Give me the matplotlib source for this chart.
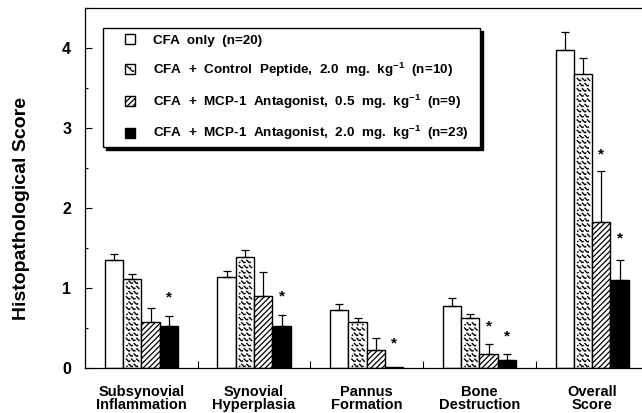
import matplotlib
matplotlib.use('Agg')
import matplotlib.pyplot as plt
import numpy as np
from matplotlib.collections import LineCollection
from matplotlib.patches import Rectangle
from matplotlib.legend_handler import HandlerPatch
from matplotlib.ticker import MultipleLocator, FixedLocator

plt.rcParams['font.family'] = ['Liberation Sans', 'DejaVu Sans']
plt.rcParams['font.weight'] = 'bold'
plt.rcParams['mathtext.fontset'] = 'custom'
plt.rcParams['mathtext.rm'] = 'Liberation Sans:bold'
plt.rcParams['mathtext.it'] = 'Liberation Sans:bold'
plt.rcParams['mathtext.bf'] = 'Liberation Sans:bold'
plt.rcParams['hatch.linewidth'] = 0.9

# ---------------- data ----------------
categories = ['Subsynovial\nInflammation', 'Synovial\nHyperplasia', 'Pannus\nFormation',
              'Bone\nDestruction', 'Overall\nScore']
labels = ['CFA  only  (n=20)',
          'CFA  +  Control  Peptide,  2.0  mg.  kg$^{-1}$  (n=10)',
          'CFA  +  MCP-1  Antagonist,  0.5  mg.  kg$^{-1}$  (n=9)',
          'CFA  +  MCP-1  Antagonist,  2.0  mg.  kg$^{-1}$  (n=23)']
cfa_only = [1.35, 1.14, 0.725, 0.775, 3.975]
cfa_only_err = [0.07, 0.07, 0.075, 0.095, 0.225]
control = [1.11, 1.39, 0.57, 0.62, 3.675]
control_err = [0.07, 0.08, 0.05, 0.05, 0.195]
mcp05 = [0.57, 0.90, 0.23, 0.18, 1.83]
mcp05_err = [0.18, 0.30, 0.15, 0.12, 0.63]
mcp20 = [0.53, 0.53, 0.01, 0.10, 1.10]
mcp20_err = [0.12, 0.13, 0.0, 0.08, 0.25]
star_mcp05 = [None, None, None, 0.52, 2.67]
star_mcp20 = [0.88, 0.90, 0.31, 0.40, 1.62]

values = [cfa_only, control, mcp05, mcp20]
errors = [cfa_only_err, control_err, mcp05_err, mcp20_err]
stars = [[None] * 5, [None] * 5, star_mcp05, star_mcp20]

# ---------------- figure ----------------
W, H, DPI = 642, 413, 100
fig = plt.figure(figsize=(W / DPI, H / DPI), dpi=DPI)
ax_left, ax_right, ax_bot, ax_top = 85, 648.5, 368, 8
ax = fig.add_axes([ax_left / W, 1 - ax_bot / H, (ax_right - ax_left) / W, (ax_bot - ax_top) / H])
ax.set_xlim(-0.5, 4.5)
ax.set_ylim(0, 4.5)

sx = (ax_right - ax_left) / 5.0   # px per data x
sy = (ax_bot - ax_top) / 4.5      # px per data y

bw = 0.1625
x = np.arange(len(categories))
faces = ['white', 'white', 'white', 'black']
hatches = [None, None, '//////', None]


def zig_segments(wpx, hpx, step, margin=1.0):
    """Texture motifs in pixel units inside a box (0..wpx, 0..hpx)."""
    segs = []
    a = step * 0.3
    nx = int(wpx / step) + 2
    ny = int(hpx / step) + 2
    for r in range(ny):
        for c in range(nx):
            cx = c * step + (step / 2 if r % 2 else 0) + step * 0.35
            cy = r * step + step * 0.5
            s1 = [(cx - a, cy + a), (cx + a, cy - a)]
            s2 = [(cx + a, cy - a), (cx + 1.8 * a, cy - 0.2 * a)]
            for s in (s1, s2):
                ok = all(margin <= p[0] <= wpx - margin and margin <= p[1] <= hpx - margin for p in s)
                if ok:
                    segs.append(s)
    return segs


for j in range(4):
    xs = x + (j - 1.5) * bw
    bars = ax.bar(xs, values[j], width=bw, color=faces[j], edgecolor='black',
                  linewidth=1.0, hatch=hatches[j], zorder=2)
    if j == 1:
        for b in bars:
            x0 = b.get_x()
            segs_px = zig_segments(b.get_width() * sx, b.get_height() * sy, 5.2)
            segs = [[(x0 + p[0] / sx, p[1] / sy) for p in s] for s in segs_px]
            lc = LineCollection(segs, colors='black', linewidths=1.0, zorder=2.5)
            ax.add_collection(lc)
    for i in range(5):
        if errors[j][i] > 0:
            ax.errorbar(xs[i], values[j][i], yerr=[[0], [errors[j][i]]], fmt='none',
                        ecolor='black', elinewidth=0.9, capsize=3, capthick=0.9, zorder=3)
        if stars[j][i] is not None:
            ax.text(xs[i], stars[j][i], '*', ha='center', va='center', fontsize=11,
                    fontweight='bold', zorder=4)

# axes styling
ax.spines['right'].set_visible(False)
for s in ['left', 'top', 'bottom']:
    ax.spines[s].set_linewidth(0.9)
ax.yaxis.set_major_locator(FixedLocator([0, 1, 2, 3, 4]))
ax.yaxis.set_minor_locator(MultipleLocator(0.5))
ax.tick_params(axis='y', which='major', direction='in', length=5, width=0.8,
               labelsize=11.5, pad=10)
ax.tick_params(axis='y', which='minor', direction='in', length=2.5, width=0.8)
ax.set_xticks(x)
ax.set_xticklabels(categories, fontsize=10.5, fontweight='bold', linespacing=0.95)
ax.xaxis.set_minor_locator(FixedLocator([0.5, 1.5, 2.5, 3.5]))
ax.tick_params(axis='x', which='major', length=0, pad=12)
ax.tick_params(axis='x', which='minor', direction='in', length=5, width=0.8)
for t in ax.get_yticklabels():
    t.set_fontweight('bold')

fig.text(22 / W, 1 - 208 / H, 'Histopathological Score', rotation=90, ha='center',
         va='center', fontsize=14, fontweight='bold')

# legend frame with shadow (drawn manually)
bx0, bx1, by0, by1 = 103, 480, 28, 147
def afx(p):
    return (p - ax_left) / (ax_right - ax_left)
def afy(p):
    return (ax_bot - p) / (ax_bot - ax_top)
shadow = Rectangle((afx(bx0 + 3), afy(by1 + 3)), afx(bx1) - afx(bx0), afy(by0) - afy(by1),
                   transform=ax.transAxes, facecolor='black', edgecolor='black', zorder=5)
frame = Rectangle((afx(bx0), afy(by1)), afx(bx1) - afx(bx0), afy(by0) - afy(by1),
                  transform=ax.transAxes, facecolor='white', edgecolor='black',
                  linewidth=1.0, zorder=6)
ax.add_patch(shadow)
ax.add_patch(frame)


class ZigHandler(HandlerPatch):
    def create_artists(self, legend, orig_handle, xdescent, ydescent, width, height,
                       fontsize, trans):
        r = Rectangle((-xdescent, -ydescent), width, height, facecolor='white',
                      edgecolor='black', linewidth=1.0, transform=trans)
        segs = []
        a = width * 0.16
        for (cx, cy) in [(0.3, 0.68), (0.62, 0.38)]:
            px, py = -xdescent + cx * width, -ydescent + cy * height
            segs.append([(px - a, py + a), (px + a, py - a)])
            segs.append([(px + a, py - a), (px + a * 1.8, py - a * 0.2)])
        lc = LineCollection(segs, colors='black', linewidths=0.9, transform=trans)
        return [r, lc]


handles = [Rectangle((0, 0), 1, 1, facecolor=faces[j], edgecolor='black', linewidth=1.0,
                     hatch=hatches[j]) for j in range(4)]
leg = ax.legend(handles, labels, loc='upper left',
                bbox_to_anchor=(afx(125), afy(34)), frameon=False, fontsize=9.7,
                handlelength=0.75, handleheight=0.75, handletextpad=1.35,
                labelspacing=1.02, borderpad=0, borderaxespad=0,
                handler_map={handles[1]: ZigHandler()})
leg.set_zorder(7)
for t in leg.get_texts():
    t.set_fontweight('bold')

fig.savefig('out.png', dpi=DPI)
